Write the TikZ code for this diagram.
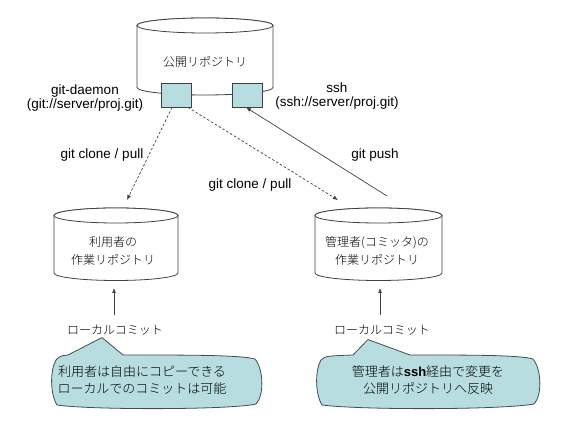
\documentclass[tikz,border=0pt]{standalone}
\usepackage{fontspec}
\setmainfont{Noto Sans CJK JP}[UprightFont=* Light,BoldFont=*]
\newfontfamily\lat{Liberation Sans}
\usetikzlibrary{arrows.meta,positioning,calc}
\definecolor{boxfill}{RGB}{184,221,224}
\definecolor{linegray}{RGB}{64,64,64}
\definecolor{noteline}{RGB}{62,78,82}
\tikzset{
  dbline/.style={draw=linegray,fill=white,line width=0.8pt},
  portbox/.style={draw=linegray,fill=boxfill,line width=0.8pt,minimum width=30pt,minimum height=24pt,inner sep=0pt},
  lbl/.style={font=\lat\fontsize{13.5}{14.5}\selectfont,align=center},
  jlbl/.style={font=\fontsize{12}{18}\selectfont,align=center},
  notebody/.style={draw=noteline,fill=boxfill,line width=0.8pt,line join=round},
  notetxt/.style={font=\fontsize{13}{16.5}\selectfont,align=center},
  arr/.style={-{Latex[length=5pt,width=4pt]},draw=linegray,line width=0.7pt},
  darr/.style={arr,dash pattern=on 2.5pt off 2pt}
}
% cylinder: center x, half width, top y, bottom y, ellipse y radius
\newcommand\dbcyl[5]{%
  \filldraw[dbline] (#1-#2,#3) -- (#1-#2,#4)
    arc[start angle=180,end angle=360,x radius=#2pt,y radius=#5pt]
    -- (#1+#2,#3) arc[start angle=0,end angle=180,x radius=#2pt,y radius=#5pt] -- cycle;
  \draw[dbline] (#1,#3) ellipse[x radius=#2pt,y radius=#5pt];}

\begin{document}
\begin{tikzpicture}[x=1pt,y=1pt]
  \useasboundingbox (0,0) rectangle (566,428);
  % repositories
  \dbcyl{205}{68}{402.5}{340.5}{7.5}
  \dbcyl{116}{62}{212.5}{155}{7.5}
  \dbcyl{378.5}{63.5}{212.5}{155}{7.5}
  \node[jlbl] (pub) at (205,366) {公開リポジトリ};
  \node[jlbl] (usr) at (113,177) {利用者の\\作業リポジトリ};
  \node[jlbl] (adm) at (377,177) {管理者(コミッタ)の\\作業リポジトリ};
  % ports
  \node[portbox] (sqL) at (176,333) {};
  \node[portbox] (sqR) at (247,333) {};
  \node[lbl] (gd) at (85,330) {git-daemon\\(git://server/proj.git)};
  \node[lbl] (sshl) at (337,332) {ssh\\(ssh://server/proj.git)};
  % transfers
  \coordinate (usrIn) at (127,228);
  \coordinate (admIn) at (338,228);
  \coordinate (admOut) at (387,232);
  \draw[darr] ([xshift=-4pt]sqL.south) -- (usrIn);
  \draw[darr] ([xshift=12pt]sqL.south) -- (admIn);
  \draw[arr] (admOut) -- ([xshift=-1pt]sqR.south);
  \node[lbl] (clL) at (102,273) {git clone / pull};
  \node[lbl] (clM) at (250,243) {git clone / pull};
  \node[lbl] (push) at (375,273) {git push};
  % local commits
  \node[jlbl] (lcL) at (115,98) {ローカルコミット};
  \node[jlbl] (lcR) at (382,98) {ローカルコミット};
  \coordinate (usrOut) at (114,140);
  \coordinate (admBot) at (380,140);
  \draw[arr] ([xshift=-1pt,yshift=6pt]lcL.north) -- (usrOut);
  \draw[arr] ([xshift=-2pt,yshift=6pt]lcR.north) -- (admBot);
  % callouts
  \draw[notebody] (68,73) -- ([xshift=-13pt,yshift=1pt]lcL.south) -- (123,73)
    .. controls (190,73) and (240,73) .. (255,69)
    .. controls (264,58) and (264,32) .. (256,24)
    .. controls (230,18) and (90,18) .. (57,23)
    .. controls (50,34) and (50,58) .. (56,68)
    .. controls (60,72) .. cycle;
  \draw[notebody] (353,73) -- ([xshift=-14pt,yshift=-1pt]lcR.south) -- (410,73)
    .. controls (470,73) and (520,73) .. (533,69)
    .. controls (542,58) and (542,32) .. (534,24)
    .. controls (500,18) and (360,18) .. (322,23)
    .. controls (315,34) and (315,58) .. (321,68)
    .. controls (326,72) .. cycle;
  \node[notetxt] (noteL) at (142,48) {利用者は自由にコピーできる\\ローカルでのコミットは可能};
  \node[notetxt] (noteR) at (428,48) {管理者は{\lat\bfseries ssh}経由で変更を\\公開リポジトリへ反映};
\end{tikzpicture}
\end{document}
